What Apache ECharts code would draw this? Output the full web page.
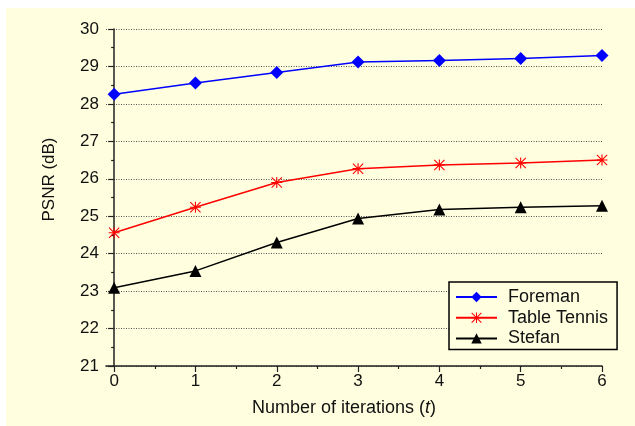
<!DOCTYPE html>
<html>
<head>
<meta charset="utf-8">
<script src="https://cdn.jsdelivr.net/npm/echarts@6/dist/echarts.min.js"></script>
<style>
  html, body { margin: 0; padding: 0; background: #fff; }
  #main { width: 635px; height: 426px; }
</style>
</head>
<body>
<div id="main"></div>
<script>
// data
var iterations = [0, 1, 2, 3, 4, 5, 6];
var minorIter = [0.5, 1.5, 2.5, 3.5, 4.5, 5.5];
var foreman = [28.26, 28.56, 28.84, 29.12, 29.16, 29.21, 29.29];
var tableTennis = [24.56, 25.24, 25.90, 26.27, 26.37, 26.42, 26.50];
var stefan = [23.09, 23.54, 24.30, 24.94, 25.18, 25.24, 25.28];

var font = 'Liberation Sans, Arial, sans-serif';
// asterisk built from 4 thin bars
var asterisk = 'path://M9 0L11 0L11 20L9 20Z M0 9L20 9L20 11L0 11Z M0 1.4L1.4 0L20 18.6L18.6 20Z M18.6 0L20 1.4L1.4 20L0 18.6Z';

function pairs(ys) {
    var res = [];
    for (var i = 0; i < iterations.length; i++) {
        res.push([iterations[i], ys[i]]);
    }
    return res;
}

var myChart = echarts.init(document.getElementById('main'));
var option = {
    backgroundColor: '#ffffff',
    animation: false,
    textStyle: { fontFamily: font },
    graphic: [{
        type: 'rect',
        z: -10,
        shape: { x: 6, y: 8, width: 629, height: 418 },
        style: { fill: '#ffffe0' }
    }],
    grid: { left: 106, right: 33, top: 29, bottom: 60 },
    legend: {
        orient: 'vertical',
        left: 449,
        top: 282,
        padding: [6, 9, 2, 6],
        itemGap: 2.7,
        itemWidth: 41,
        itemHeight: 13,
        borderColor: '#000',
        borderWidth: 1.5,
        backgroundColor: '#ffffe0',
        textStyle: { fontFamily: font, fontSize: 18, lineHeight: 18, color: '#111', padding: [0, 0, 0, 6] },
        data: ['Foreman', 'Table Tennis', 'Stefan']
    },
    xAxis: [{
        type: 'value',
        min: -0.1,
        max: 6,
        name: '{a|Number of iterations (}{b|t}{a|)}',
        nameLocation: 'middle',
        nameGap: 33,
        nameTextStyle: {
            padding: [0, 20, 0, 0],
            rich: {
                a: { fontFamily: font, fontSize: 18, color: '#111' },
                b: { fontFamily: font, fontSize: 18, color: '#111', fontStyle: 'italic' }
            }
        },
        axisLine: { lineStyle: { color: '#222', width: 1.5 } },
        axisTick: { customValues: iterations, length: 6, lineStyle: { color: '#222', width: 1.2 } },
        axisLabel: { customValues: iterations, margin: 7, fontSize: 17, color: '#111', fontFamily: font },
        splitLine: { show: false }
    }, {
        type: 'value',
        min: -0.1,
        max: 6,
        position: 'bottom',
        axisLine: { show: false },
        axisTick: { customValues: minorIter, length: 3, lineStyle: { color: '#222', width: 1.2 } },
        axisLabel: { show: false },
        splitLine: { show: false }
    }],
    yAxis: {
        type: 'value',
        min: 21,
        max: 30,
        interval: 1,
        name: 'PSNR (dB)',
        nameLocation: 'middle',
        nameGap: 48,
        nameTextStyle: { fontFamily: font, fontSize: 17, color: '#111', padding: [0, 0, 0, 36] },
        axisLine: { show: true, lineStyle: { color: '#222', width: 1.5 } },
        axisTick: { length: 6, lineStyle: { color: '#222', width: 1.2 } },
        minorTick: { show: true, splitNumber: 2, length: 3, lineStyle: { color: '#222', width: 1.2 } },
        axisLabel: { margin: 7, fontSize: 17, color: '#111', fontFamily: font },
        splitLine: { show: true, lineStyle: { color: '#555', type: [1, 1.5], width: 1 } }
    },
    series: [{
        name: 'Foreman',
        type: 'line',
        data: pairs(foreman),
        symbol: 'diamond',
        symbolSize: 13,
        lineStyle: { color: '#0000ff', width: 1.5 },
        itemStyle: { color: '#0000ff' }
    }, {
        name: 'Table Tennis',
        type: 'line',
        data: pairs(tableTennis),
        symbol: asterisk,
        symbolSize: 11,
        lineStyle: { color: '#ff0000', width: 1.5 },
        itemStyle: { color: '#ff0000' }
    }, {
        name: 'Stefan',
        type: 'line',
        data: pairs(stefan),
        symbol: 'triangle',
        symbolSize: 12,
        lineStyle: { color: '#000000', width: 1.5 },
        itemStyle: { color: '#000000' }
    }]
};
myChart.setOption(option);
</script>
</body>
</html>
